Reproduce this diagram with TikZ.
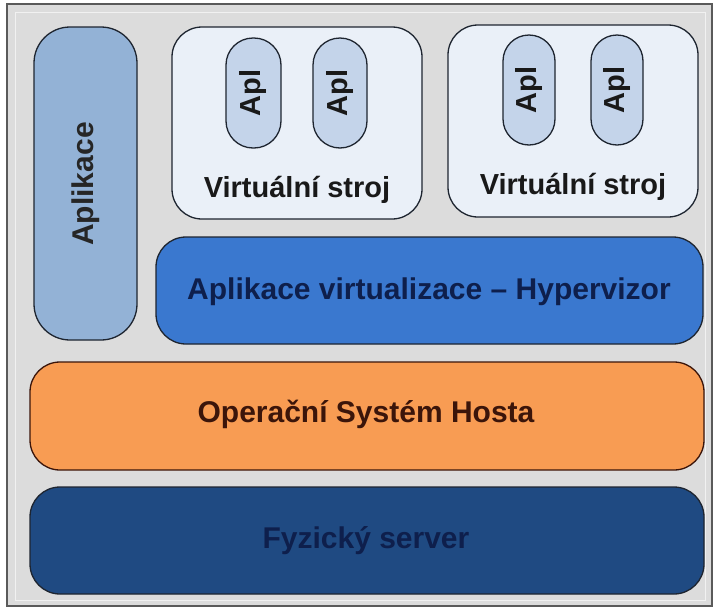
\documentclass[tikz,border=0pt]{standalone}
\usepackage{fontspec}
\setmainfont{Liberation Sans}
\definecolor{bgGray}{HTML}{DCDCDC}
\definecolor{frameGray}{HTML}{5A5A5A}
\definecolor{appBlue}{HTML}{93B2D6}
\definecolor{vmFill}{HTML}{EAF0F8}
\definecolor{aplFill}{HTML}{C4D4EA}
\definecolor{hypBlue}{HTML}{3A78CF}
\definecolor{osOrange}{HTML}{F89C53}
\definecolor{srvBlue}{HTML}{1F4A82}
\definecolor{navyText}{HTML}{0E1F4C}
\definecolor{brownText}{HTML}{3B150A}
\definecolor{edgeDark}{HTML}{1E2530}
\tikzset{
  layer/.style={draw=edgeDark, line width=1.3pt, rounded corners=30pt},
  lbl/.style={font=\bfseries\fontsize{30}{34}\selectfont, inner sep=0pt},
  small/.style={font=\bfseries\fontsize{29}{33}\selectfont, inner sep=0pt},
}
\begin{document}
\begin{tikzpicture}[x=1pt,y=-1pt]
\useasboundingbox (0,0) rectangle (716,611);
\fill[white] (0,0) rectangle (716,611);
% outer frame
\draw[draw=frameGray, fill=bgGray, line width=1.5pt] (7,4) rectangle (712,606);
\draw[draw=white!60!bgGray, line width=0.8pt] (15,12) rectangle (705,600);

% left application column
\draw[layer, fill=appBlue, rounded corners=36pt] (34,27) rectangle (137,340);
\node[lbl, rotate=90, text=black!85] (app) at (85.5,184) {Aplikace};

% first virtual machine
\draw[layer, fill=vmFill] (172,27) rectangle (422,219);
\draw[layer, fill=aplFill, rounded corners=27pt] (226,38) rectangle (281,148);
\draw[layer, fill=aplFill, rounded corners=27pt] (313,38) rectangle (367,148);
\node[small, rotate=90, text=black!90] (a1) at (253.5,93) {Apl};
\node[small, rotate=90, text=black!90] (a2) at (340,93) {Apl};
\node[small, text=black!90] (vm1) at (297,190) {Virtuální stroj};

% second virtual machine
\draw[layer, fill=vmFill] (448,25) rectangle (698,217);
\draw[layer, fill=aplFill, rounded corners=26pt] (503,35) rectangle (555,145);
\draw[layer, fill=aplFill, rounded corners=26pt] (591,35) rectangle (643,145);
\node[small, rotate=90, text=black!90] (a3) at (529,90) {Apl};
\node[small, rotate=90, text=black!90] (a4) at (617,90) {Apl};
\node[small, text=black!90] (vm2) at (573,187) {Virtuální stroj};

% hypervisor
\draw[layer, fill=hypBlue] (156,237) rectangle (703,344);
\node[lbl, text=navyText] (hyp) at (429,292) {Aplikace virtualizace – Hypervizor};

% host operating system
\draw[layer, draw=brownText, fill=osOrange] (30,362) rectangle (704,470);
\node[lbl, text=brownText] (os) at (366,414) {Operační Systém Hosta};

% physical server
\draw[layer, fill=srvBlue] (30,487) rectangle (704,594);
\node[lbl, text=navyText] (srv) at (366,541) {Fyzický server};
\end{tikzpicture}
\end{document}
